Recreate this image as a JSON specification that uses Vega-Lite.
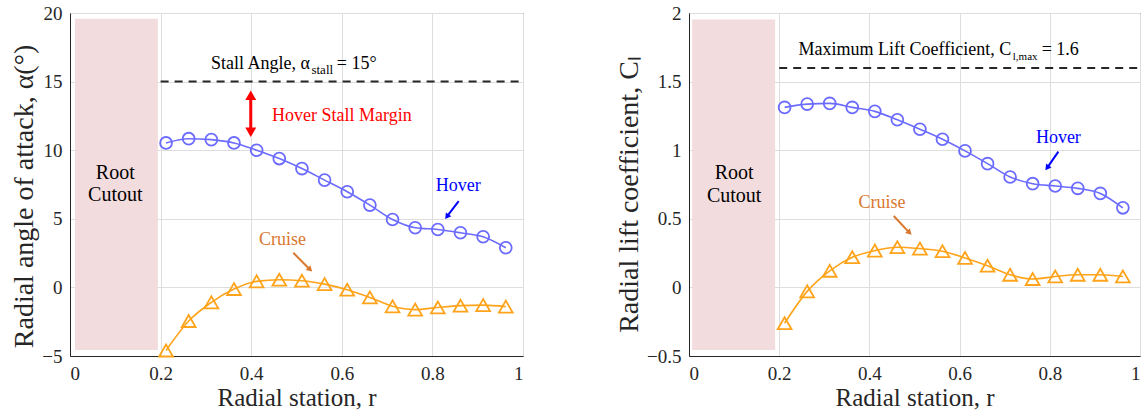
{
  "$schema": "https://vega.github.io/schema/vega-lite/v6.json",
  "padding": {"left": 10, "top": 3, "right": 0, "bottom": 0},
  "background": "white",
  "config": {
    "font": "Liberation Serif",
    "view": {"stroke": "black", "strokeWidth": 1},
    "axis": {
      "labelFont": "Liberation Serif", "labelFontSize": 19, "labelColor": "#262626",
      "titleFont": "Liberation Serif", "titleFontSize": 25, "titleFontWeight": "normal", "titleColor": "#262626",
      "domainColor": "#262626", "ticks": false, "grid": true, "gridColor": "#dedede", "gridWidth": 1
    },
    "concat": {"spacing": 90}
  },
  "datasets": {
    "curves": [
      {"r": 0.212, "case": "Hover", "alpha": 10.53, "cl": 1.312},
      {"r": 0.262, "case": "Hover", "alpha": 10.84, "cl": 1.336},
      {"r": 0.312, "case": "Hover", "alpha": 10.77, "cl": 1.341},
      {"r": 0.362, "case": "Hover", "alpha": 10.53, "cl": 1.312},
      {"r": 0.412, "case": "Hover", "alpha": 10.0, "cl": 1.283},
      {"r": 0.462, "case": "Hover", "alpha": 9.39, "cl": 1.222},
      {"r": 0.512, "case": "Hover", "alpha": 8.66, "cl": 1.153},
      {"r": 0.562, "case": "Hover", "alpha": 7.82, "cl": 1.08},
      {"r": 0.612, "case": "Hover", "alpha": 6.97, "cl": 0.995},
      {"r": 0.662, "case": "Hover", "alpha": 6.0, "cl": 0.902},
      {"r": 0.712, "case": "Hover", "alpha": 4.95, "cl": 0.805},
      {"r": 0.762, "case": "Hover", "alpha": 4.35, "cl": 0.756},
      {"r": 0.812, "case": "Hover", "alpha": 4.22, "cl": 0.739},
      {"r": 0.862, "case": "Hover", "alpha": 3.98, "cl": 0.722},
      {"r": 0.912, "case": "Hover", "alpha": 3.69, "cl": 0.685},
      {"r": 0.962, "case": "Hover", "alpha": 2.89, "cl": 0.58},
      {"r": 0.212, "case": "Cruise", "alpha": -4.6, "cl": -0.261},
      {"r": 0.262, "case": "Cruise", "alpha": -2.45, "cl": -0.029},
      {"r": 0.312, "case": "Cruise", "alpha": -1.09, "cl": 0.121},
      {"r": 0.362, "case": "Cruise", "alpha": -0.12, "cl": 0.22},
      {"r": 0.412, "case": "Cruise", "alpha": 0.44, "cl": 0.268},
      {"r": 0.462, "case": "Cruise", "alpha": 0.56, "cl": 0.293},
      {"r": 0.512, "case": "Cruise", "alpha": 0.49, "cl": 0.283},
      {"r": 0.562, "case": "Cruise", "alpha": 0.24, "cl": 0.264},
      {"r": 0.612, "case": "Cruise", "alpha": -0.17, "cl": 0.215},
      {"r": 0.662, "case": "Cruise", "alpha": -0.73, "cl": 0.158},
      {"r": 0.712, "case": "Cruise", "alpha": -1.38, "cl": 0.092},
      {"r": 0.762, "case": "Cruise", "alpha": -1.62, "cl": 0.061},
      {"r": 0.812, "case": "Cruise", "alpha": -1.46, "cl": 0.08},
      {"r": 0.862, "case": "Cruise", "alpha": -1.33, "cl": 0.092},
      {"r": 0.912, "case": "Cruise", "alpha": -1.29, "cl": 0.092},
      {"r": 0.962, "case": "Cruise", "alpha": -1.4, "cl": 0.08}
    ]
  },
  "hconcat": [
    {
      "width": 453, "height": 343,
      "encoding": {
        "x": {"field": "r", "type": "quantitative", "scale": {"domain": [0, 1], "nice": false},
              "axis": {"values": [0, 0.2, 0.4, 0.6, 0.8, 1], "title": "Radial station, r", "labelPadding": 8, "titlePadding": 2, "format": "~g"}},
        "y": {"field": "v", "type": "quantitative", "scale": {"domain": [-5, 20], "nice": false},
              "axis": {"values": [-5, 0, 5, 10, 15, 20], "title": "Radial angle of attack, α(°)", "titleFontSize": 28, "titleY": 183, "labelPadding": 8, "titlePadding": 3}}
      },
      "layer": [
        {"data": {"values": [{"r": 0.011, "r2": 0.194, "v": 19.59, "v2": -4.56}]},
         "mark": {"type": "rect", "color": "#f2dcdd"},
         "encoding": {"x2": {"field": "r2"}, "y2": {"field": "v2"}}},
        {"data": {"values": [{"r": 0.1, "v": 8.37, "t": "Root"}, {"r": 0.1, "v": 6.7, "t": "Cutout"}]},
         "mark": {"type": "text", "font": "Liberation Serif", "fontSize": 20, "color": "black", "align": "center", "baseline": "middle"},
         "encoding": {"text": {"field": "t"}}},
        {"data": {"values": [{"r": 0.2, "r2": 1, "v": 15}]},
         "mark": {"type": "rule", "color": "#262626", "strokeWidth": 2, "strokeDash": [8, 6]},
         "encoding": {"x2": {"field": "r2"}}},
        {"data": {"values": [{"r": 0.311, "v": 15.89, "t": "Stall Angle, α"}, {"r": 0.589, "v": 15.89, "t": "= 15°"}]},
         "mark": {"type": "text", "font": "Liberation Serif", "fontSize": 18, "color": "black", "align": "left", "baseline": "alphabetic"},
         "encoding": {"text": {"field": "t"}}},
        {"data": {"values": [{"r": 0.533, "v": 15.58, "t": "stall"}]},
         "mark": {"type": "text", "font": "Liberation Serif", "fontSize": 13, "color": "black", "align": "left", "baseline": "alphabetic"},
         "encoding": {"text": {"field": "t"}}},
        {"data": {"values": [{"r": 0.399, "v": 11.2, "v2": 14.1}]},
         "mark": {"type": "rule", "color": "#ff0000", "strokeWidth": 3},
         "encoding": {"y2": {"field": "v2"}}},
        {"data": {"values": [{"r": 0.399, "v": 14.0}]},
         "mark": {"type": "point", "shape": "triangle-up", "filled": true, "color": "#ff0000", "size": 120, "opacity": 1}},
        {"data": {"values": [{"r": 0.399, "v": 11.3}]},
         "mark": {"type": "point", "shape": "triangle-down", "filled": true, "color": "#ff0000", "size": 120, "opacity": 1}},
        {"data": {"values": [{"r": 0.446, "v": 12.52, "t": "Hover Stall Margin"}]},
         "mark": {"type": "text", "font": "Liberation Serif", "fontSize": 18, "color": "#ff0000", "align": "left", "baseline": "middle"},
         "encoding": {"text": {"field": "t"}}},
        {"data": {"name": "curves"},
         "transform": [{"calculate": "datum.alpha", "as": "v"}],
         "mark": {"type": "line", "interpolate": "monotone", "strokeWidth": 1.6},
         "encoding": {"color": {"field": "case", "type": "nominal", "scale": {"domain": ["Hover", "Cruise"], "range": ["#6b6bff", "#ffa31a"]}, "legend": null}}},
        {"data": {"name": "curves"},
         "transform": [{"calculate": "datum.alpha", "as": "v"}, {"filter": "datum.case == 'Hover'"}],
         "mark": {"type": "point", "shape": "circle", "filled": false, "color": "#6b6bff", "size": 140, "strokeWidth": 1.8, "opacity": 1}},
        {"data": {"name": "curves"},
         "transform": [{"calculate": "datum.alpha", "as": "v"}, {"filter": "datum.case == 'Cruise'"}],
         "mark": {"type": "point", "shape": "triangle-up", "filled": false, "color": "#ffa31a", "size": 190, "strokeWidth": 1.8, "opacity": 1}},
        {"data": {"values": [{"r": 0.857, "v": 7.4, "t": "Hover"}]},
         "mark": {"type": "text", "font": "Liberation Serif", "fontSize": 18, "color": "#0000ff", "align": "center", "baseline": "middle"},
         "encoding": {"text": {"field": "t"}}},
        {"data": {"values": [{"r": 0.858, "v": 6.29, "r2": 0.834, "v2": 5.25}]},
         "mark": {"type": "rule", "color": "#0000ff", "strokeWidth": 2},
         "encoding": {"x2": {"field": "r2"}, "y2": {"field": "v2"}}},
        {"data": {"values": [{"r": 0.832, "v": 5.15}]},
         "mark": {"type": "point", "shape": "triangle-up", "angle": 216, "filled": true, "color": "#0000ff", "size": 45, "opacity": 1}},
        {"data": {"values": [{"r": 0.469, "v": 3.49, "t": "Cruise"}]},
         "mark": {"type": "text", "font": "Liberation Serif", "fontSize": 18, "color": "#d9772e", "align": "center", "baseline": "middle"},
         "encoding": {"text": {"field": "t"}}},
        {"data": {"values": [{"r": 0.493, "v": 2.52, "r2": 0.528, "v2": 1.36}]},
         "mark": {"type": "rule", "color": "#d9772e", "strokeWidth": 2},
         "encoding": {"x2": {"field": "r2"}, "y2": {"field": "v2"}}},
        {"data": {"values": [{"r": 0.53, "v": 1.3}]},
         "mark": {"type": "point", "shape": "triangle-up", "angle": 135, "filled": true, "color": "#d9772e", "size": 45, "opacity": 1}}
      ]
    },
    {
      "width": 451, "height": 343,
      "encoding": {
        "x": {"field": "r", "type": "quantitative", "scale": {"domain": [0, 1], "nice": false},
              "axis": {"values": [0, 0.2, 0.4, 0.6, 0.8, 1], "title": "Radial station, r", "labelPadding": 8, "titlePadding": 2, "format": "~g"}},
        "y": {"field": "v", "type": "quantitative", "scale": {"domain": [-0.5, 2], "nice": false},
              "axis": {"values": [-0.5, 0, 0.5, 1, 1.5, 2], "title": "Radial lift coefficient, Cₗ", "titleFontSize": 28, "titleY": 181, "labelPadding": 8, "titlePadding": 3, "format": "~g"}}
      },
      "layer": [
        {"data": {"values": [{"r": 0.007, "r2": 0.191, "v": 1.952, "v2": -0.456}]},
         "mark": {"type": "rect", "color": "#f2dcdd"},
         "encoding": {"x2": {"field": "r2"}, "y2": {"field": "v2"}}},
        {"data": {"values": [{"r": 0.1, "v": 0.831, "t": "Root"}, {"r": 0.1, "v": 0.663, "t": "Cutout"}]},
         "mark": {"type": "text", "font": "Liberation Serif", "fontSize": 20, "color": "black", "align": "center", "baseline": "middle"},
         "encoding": {"text": {"field": "t"}}},
        {"data": {"values": [{"r": 0.2, "r2": 1, "v": 1.6}]},
         "mark": {"type": "rule", "color": "#262626", "strokeWidth": 2, "strokeDash": [8, 6]},
         "encoding": {"x2": {"field": "r2"}}},
        {"data": {"values": [{"r": 0.243, "v": 1.696, "t": "Maximum Lift Coefficient, C"}, {"r": 0.782, "v": 1.696, "t": "= 1.6"}]},
         "mark": {"type": "text", "font": "Liberation Serif", "fontSize": 18, "color": "black", "align": "left", "baseline": "alphabetic"},
         "encoding": {"text": {"field": "t"}}},
        {"data": {"values": [{"r": 0.718, "v": 1.66, "t": "l,max"}]},
         "mark": {"type": "text", "font": "Liberation Serif", "fontSize": 11, "color": "black", "align": "left", "baseline": "alphabetic"},
         "encoding": {"text": {"field": "t"}}},
        {"data": {"name": "curves"},
         "transform": [{"calculate": "datum.cl", "as": "v"}],
         "mark": {"type": "line", "interpolate": "monotone", "strokeWidth": 1.6},
         "encoding": {"color": {"field": "case", "type": "nominal", "scale": {"domain": ["Hover", "Cruise"], "range": ["#6b6bff", "#ffa31a"]}, "legend": null}}},
        {"data": {"name": "curves"},
         "transform": [{"calculate": "datum.cl", "as": "v"}, {"filter": "datum.case == 'Hover'"}],
         "mark": {"type": "point", "shape": "circle", "filled": false, "color": "#6b6bff", "size": 140, "strokeWidth": 1.8, "opacity": 1}},
        {"data": {"name": "curves"},
         "transform": [{"calculate": "datum.cl", "as": "v"}, {"filter": "datum.case == 'Cruise'"}],
         "mark": {"type": "point", "shape": "triangle-up", "filled": false, "color": "#ffa31a", "size": 190, "strokeWidth": 1.8, "opacity": 1}},
        {"data": {"values": [{"r": 0.819, "v": 1.092, "t": "Hover"}]},
         "mark": {"type": "text", "font": "Liberation Serif", "fontSize": 18, "color": "#0000ff", "align": "center", "baseline": "middle"},
         "encoding": {"text": {"field": "t"}}},
        {"data": {"values": [{"r": 0.819, "v": 0.99, "r2": 0.796, "v2": 0.88}]},
         "mark": {"type": "rule", "color": "#0000ff", "strokeWidth": 2},
         "encoding": {"x2": {"field": "r2"}, "y2": {"field": "v2"}}},
        {"data": {"values": [{"r": 0.794, "v": 0.871}]},
         "mark": {"type": "point", "shape": "triangle-up", "angle": 216, "filled": true, "color": "#0000ff", "size": 45, "opacity": 1}},
        {"data": {"values": [{"r": 0.428, "v": 0.617, "t": "Cruise"}]},
         "mark": {"type": "text", "font": "Liberation Serif", "fontSize": 18, "color": "#d9772e", "align": "center", "baseline": "middle"},
         "encoding": {"text": {"field": "t"}}},
        {"data": {"values": [{"r": 0.454, "v": 0.52, "r2": 0.487, "v2": 0.405}]},
         "mark": {"type": "rule", "color": "#d9772e", "strokeWidth": 2},
         "encoding": {"x2": {"field": "r2"}, "y2": {"field": "v2"}}},
        {"data": {"values": [{"r": 0.489, "v": 0.398}]},
         "mark": {"type": "point", "shape": "triangle-up", "angle": 135, "filled": true, "color": "#d9772e", "size": 45, "opacity": 1}}
      ]
    }
  ]
}
